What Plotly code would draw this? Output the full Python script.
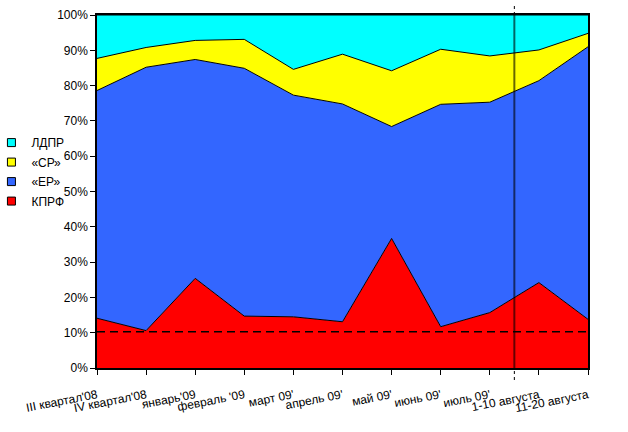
import plotly.graph_objects as go

categories = ["III квартал'08", "IV квартал'08", "январь'09", "февраль '09", "март 09'",
              "апрель 09'", "май 09'", "июнь 09'", "июль 09'", "1-10 августа", "11-20 августа"]
kprf = [14.1, 10.6, 25.4, 14.7, 14.5, 13.1, 36.7, 11.7, 15.7, 24.2, 13.8]
er = [64.5, 74.6, 62.0, 70.2, 62.8, 61.7, 31.7, 63.0, 59.6, 57.2, 77.2]
sr = [9.1, 5.6, 5.4, 8.2, 7.3, 14.1, 15.8, 15.6, 13.1, 8.7, 3.8]
ldpr = [12.3, 9.2, 7.2, 6.9, 15.4, 11.1, 15.8, 9.7, 11.6, 9.9, 5.2]
series_names = ["КПРФ", "«ЕР»", "«СР»", "ЛДПР"]
series_colors = ["#FF0000", "#3366FF", "#FFFF00", "#00FFFF"]
reference_level = 10.3
divider_position = 8.5
y_ticks = list(range(0, 101, 10))
y_tick_labels = [f"{v}%" for v in y_ticks]

x = list(range(len(categories)))
fig = go.Figure()
for name, vals, col in zip(series_names, [kprf, er, sr, ldpr], series_colors):
    fig.add_trace(go.Scatter(
        x=x, y=vals, name=name, mode="lines", stackgroup="one", groupnorm="percent",
        line=dict(color="black", width=1), fillcolor=col,
        showlegend=False, hoverinfo="skip"))

# legend entries with square swatches (top-to-bottom: ЛДПР, «СР», «ЕР», КПРФ)
for name, col in zip(series_names[::-1], series_colors[::-1]):
    fig.add_trace(go.Scatter(
        x=[None], y=[None], name=name, mode="markers", legendgroup=name,
        marker=dict(symbol="square", size=8, color=col, line=dict(color="black", width=1))))

fig.add_trace(go.Scatter(
    x=[x[0], x[-1]], y=[reference_level, reference_level], mode="lines",
    line=dict(color="black", width=1.5, dash="8px,5px"), showlegend=False, hoverinfo="skip"))

# vertical divider
fig.add_shape(type="line", xref="x", yref="paper", x0=divider_position, x1=divider_position,
              y0=0, y1=1, line=dict(color="rgba(0,0,0,0.6)", width=2))
fig.add_shape(type="line", xref="x", yref="paper", x0=divider_position, x1=divider_position,
              y0=1, y1=1.03, line=dict(color="black", width=1, dash="dot"))
fig.add_shape(type="line", xref="x", yref="paper", x0=divider_position, x1=divider_position,
              y0=-0.034, y1=0, line=dict(color="black", width=1, dash="dot"))

fig.update_layout(
    width=628, height=432,
    margin=dict(l=97, r=40, t=15, b=64, autoexpand=False),
    paper_bgcolor="white", plot_bgcolor="white",
    font=dict(family="Arial, Liberation Sans, sans-serif", size=12, color="black"),
    showlegend=True,
    legend=dict(x=-0.215, y=0.555, xanchor="left", yanchor="middle",
                traceorder="grouped", tracegroupgap=0.5,
                bgcolor="rgba(0,0,0,0)", font=dict(size=12)),
    xaxis=dict(range=[0, len(categories) - 1], tickvals=x, ticktext=categories,
               tickangle=-11, ticks="outside", ticklen=5, tickcolor="black",
               ticklabelstandoff=9,
               showline=True, linecolor="black", linewidth=1.5, mirror=True,
               showgrid=False, zeroline=False, tickfont=dict(size=12)),
    yaxis=dict(range=[0, 100], tickvals=y_ticks, ticktext=y_tick_labels,
               ticks="outside", ticklen=5, tickcolor="black",
               showline=True, linecolor="black", linewidth=1.5, mirror=True,
               showgrid=False, zeroline=False, tickfont=dict(size=12)),
)

fig.write_html("out.html", config={"displayModeBar": False},
               post_script="document.body.style.margin='0';")
